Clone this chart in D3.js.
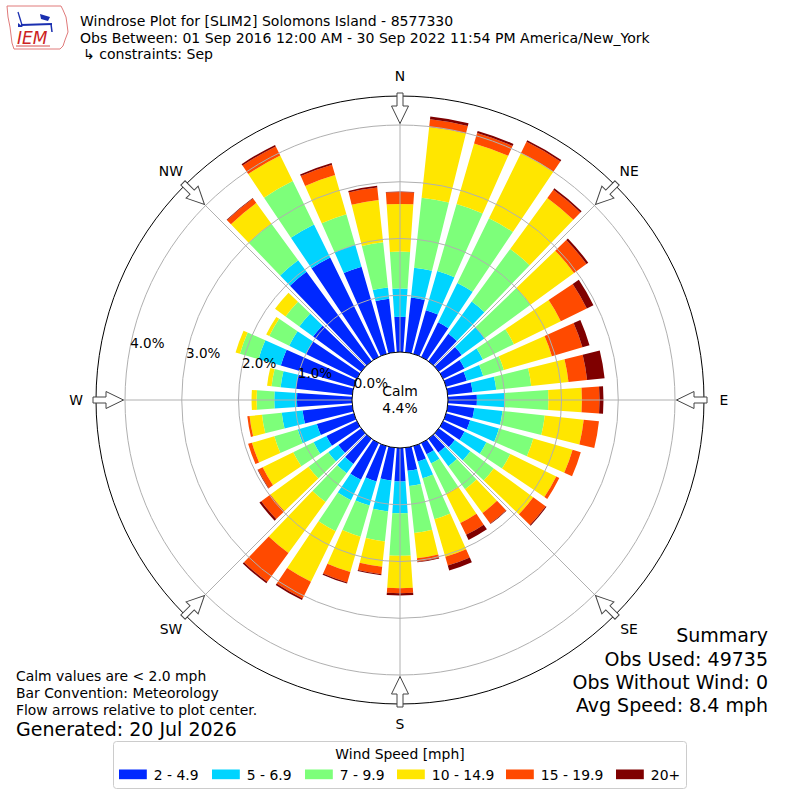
<!DOCTYPE html>
<html><head><meta charset="utf-8">
<script src="https://cdn.jsdelivr.net/npm/d3@7"></script>
<style>
body{margin:0;background:#fff}
svg{display:block}
text{font-family:"DejaVu Sans",sans-serif;fill:#000}
</style>
</head><body>
<svg id="chart" width="800" height="800"></svg>
<script>
// ---------------- data ----------------
const directions = d3.range(0, 360, 10); // degrees, meteorological (from N clockwise)
const speedBins = ["2 - 4.9", "5 - 6.9", "7 - 9.9", "10 - 14.9", "15 - 19.9", "20+"];
const binColors = ["#0028ff", "#00d4ff", "#7dff7a", "#ffe600", "#ff4a00", "#7f0000"];
// percent frequency per direction (0,10,...,350) per speed bin
const bin2to4 = [0.62,0.97,0.80,0.68,0.60,0.50,0.42,0.38,0.44,0.51,0.47,0.44,0.42,0.35,0.30,0.22,0.28,0.41,
                 0.59,0.58,0.65,0.72,0.55,0.50,0.60,0.68,0.88,0.97,1.00,1.34,1.00,1.05,1.95,1.95,1.60,0.95];
const bin5to6 = [0.50,0.53,0.72,0.77,0.70,0.50,0.36,0.30,0.42,0.49,0.50,0.53,0.43,0.34,0.30,0.18,0.31,0.27,
                 0.56,0.55,0.44,0.40,0.20,0.22,0.25,0.35,0.37,0.40,0.27,0.41,0.33,0.30,0.25,0.65,0.40,0.20];
const bin7to9 = [0.65,1.24,1.23,1.27,1.15,1.00,0.61,0.38,0.62,0.77,0.75,0.63,0.47,0.51,0.50,0.59,0.75,0.83,
                 0.75,0.53,0.57,0.61,0.63,0.43,0.40,0.43,0.35,0.31,0.16,0.34,0.39,0.30,0.80,0.85,0.56,0.80];
const bin10to14 = [0.84,1.25,1.11,1.28,1.11,0.95,0.92,0.88,0.66,0.59,0.69,0.72,0.90,0.86,0.52,0.58,0.69,0.45,
                   0.57,0.45,0.65,0.99,1.11,0.83,0.60,0.41,0.22,0.09,0.08,0.08,0.06,0.23,0.45,0.50,0.72,0.75];
const bin15to19 = [0.21,0.14,0.19,0.22,0.18,0.27,0.51,0.56,0.33,0.31,0.27,0.15,0.06,0.27,0.23,0.23,0.16,0.06,
                   0.09,0.13,0.19,0.33,0.63,0.20,0.09,0.07,0.04,0.00,0.00,0.00,0.00,0.00,0.10,0.18,0.19,0.22];
const bin20plus = [0.01,0.05,0.04,0.03,0.03,0.04,0.13,0.13,0.31,0.07,0.00,0.00,0.00,0.02,0.01,0.10,0.09,0.01,
                   0.04,0.02,0.02,0.03,0.03,0.04,0.01,0.00,0.00,0.00,0.00,0.00,0.00,0.00,0.01,0.03,0.03,0.03];
const calmPct = "4.4%";
const compass = ["N", "NE", "E", "SE", "S", "SW", "W", "NW"];
const pctTicks = [0, 1, 2, 3, 4];
const titleLines = ["Windrose Plot for [SLIM2] Solomons Island - 8577330",
  "Obs Between: 01 Sep 2016 12:00 AM - 30 Sep 2022 11:54 PM America/New_York",
  "\u21b3 constraints: Sep"];
const noteLines = ["Calm values are < 2.0 mph", "Bar Convention: Meteorology", "Flow arrows relative to plot center."];
const generated = "Generated: 20 Jul 2026";
const summaryLines = ["Summary", "Obs Used: 49735", "Obs Without Wind: 0", "Avg Speed: 8.4 mph"];
const legendTitle = "Wind Speed [mph]";

// ---------------- chart ----------------
const svg = d3.select("#chart");
svg.append("rect").attr("width", 800).attr("height", 800).attr("fill", "#fff");
const cx = 400, cy = 400;
const r = d3.scaleLinear().domain([0, 4]).range([48, 275]);
const outerR = 304;
const rad = d => d * Math.PI / 180;

const series = [bin2to4, bin5to6, bin7to9, bin10to14, bin15to19, bin20plus];
const keys = speedBins;
const table = directions.map((dir, i) => {
  const o = {dir};
  keys.forEach((k, j) => o[k] = series[j][i]);
  return o;
});
const stacked = d3.stack().keys(keys)(table);

const g = svg.append("g").attr("transform", `translate(${cx},${cy})`);
const half = rad(10 * 0.78 / 2);
const arc = d3.arc()
  .innerRadius(d => r(d[0]))
  .outerRadius(d => r(d[1]))
  .startAngle(d => rad(d.data.dir) - half)
  .endAngle(d => rad(d.data.dir) + half);

stacked.forEach((s, j) => {
  g.append("g").selectAll("path").data(s.filter(d => d[1] - d[0] > 0)).join("path")
    .attr("d", arc).attr("fill", binColors[j]);
});

// grid rings
g.append("g").selectAll("circle").data(pctTicks.filter(t => t > 0)).join("circle")
  .attr("r", d => r(d)).attr("fill", "none").attr("stroke", "#b0b0b0").attr("stroke-width", 1);
// radial lines
g.append("g").selectAll("line").data(d3.range(0, 360, 45)).join("line")
  .attr("x1", d => r(0) * Math.sin(rad(d))).attr("y1", d => -r(0) * Math.cos(rad(d)))
  .attr("x2", d => outerR * Math.sin(rad(d))).attr("y2", d => -outerR * Math.cos(rad(d)))
  .attr("stroke", "#b0b0b0").attr("stroke-width", 1);
// outer circle
g.append("circle").attr("r", outerR).attr("fill", "none").attr("stroke", "#000").attr("stroke-width", 1);
// calm circle
g.append("circle").attr("r", r(0)).attr("fill", "#fff").attr("stroke", "#000").attr("stroke-width", 1);

// arrows
const arrowPath = "M-3,-307 L3,-307 L3,-294 L8.5,-294 L0,-276.5 L-8.5,-294 L-3,-294 Z";
g.append("g").selectAll("path").data(d3.range(0, 360, 45)).join("path")
  .attr("d", arrowPath).attr("transform", d => `rotate(${d})`)
  .attr("fill", "#fff").attr("stroke", "#444").attr("stroke-width", 1);

// compass labels
g.append("g").selectAll("text").data(compass).join("text")
  .attr("x", (d, i) => 324 * Math.sin(rad(i * 45)))
  .attr("y", (d, i) => -324 * Math.cos(rad(i * 45)) + 5)
  .attr("text-anchor", "middle").attr("font-size", 13.9).text(d => d);

// percent labels
g.append("g").selectAll("text").data(pctTicks).join("text")
  .attr("x", d => -r(d) * Math.cos(rad(10)) + 1)
  .attr("y", d => -r(d) * Math.sin(rad(10)) - 4)
  .attr("font-size", 13.5).text(d => d.toFixed(1) + "%");

// calm text
g.append("text").attr("x", 0).attr("y", -4.5).attr("text-anchor", "middle").attr("font-size", 13.9).text("Calm");
g.append("text").attr("x", 0).attr("y", 12.5).attr("text-anchor", "middle").attr("font-size", 13.9).text(calmPct);

// title
svg.append("g").selectAll("text").data(titleLines).join("text")
  .attr("x", (d, i) => i === 2 ? 83 : 80).attr("y", (d, i) => [25.5, 42.5, 59][i])
  .attr("font-size", 14.05).text(d => d);

// notes
svg.append("g").selectAll("text").data(noteLines).join("text")
  .attr("x", 16).attr("y", (d, i) => [680.5, 697.5, 714.5][i]).attr("font-size", 13.9).text(d => d);
svg.append("text").attr("x", 16).attr("y", 736).attr("font-size", 19).text(generated);

// summary
svg.append("g").selectAll("text").data(summaryLines).join("text")
  .attr("x", 768).attr("y", (d, i) => [642, 665.5, 689, 712][i]).attr("text-anchor", "end")
  .attr("font-size", 19).text(d => d);

// legend
const lg = svg.append("g");
lg.append("rect").attr("x", 113.5).attr("y", 741.5).attr("width", 573).attr("height", 47)
  .attr("rx", 3).attr("fill", "#fff").attr("stroke", "#cccccc").attr("stroke-width", 1);
lg.append("text").attr("x", 400).attr("y", 759).attr("text-anchor", "middle").attr("font-size", 13.9).text(legendTitle);
const swatchX = [119, 212, 305, 397, 506, 616];
speedBins.forEach((b, j) => {
  lg.append("rect").attr("x", swatchX[j]).attr("y", 769.5).attr("width", 27.8).attr("height", 9.7).attr("fill", binColors[j]);
  lg.append("text").attr("x", swatchX[j] + 34.8).attr("y", 779.5).attr("font-size", 13.9).text(b);
});

// logo
const logo = svg.append("g");
logo.append("path")
  .attr("d", "M7,6 L61,6 L63,10 L66,17 L67,24 L68,32 L65,40 L63,46 L60,49 L14,49 L12,43 L11,35 L10,27 L8,17 Z")
  .attr("fill", "none").attr("stroke", "#e07a7a").attr("stroke-width", 1);
logo.append("line").attr("x1", 21).attr("y1", 25).attr("x2", 52).attr("y2", 24).attr("stroke", "#1a2fb0").attr("stroke-width", 2);
logo.append("line").attr("x1", 18).attr("y1", 12).attr("x2", 22).attr("y2", 25).attr("stroke", "#1a2fb0").attr("stroke-width", 1.3);
logo.append("path").attr("d", "M40,14 L50,17 L48,21 L41,19 Z").attr("fill", "#1a2fb0");
logo.append("line").attr("x1", 51).attr("y1", 24).attr("x2", 52).attr("y2", 32).attr("stroke", "#1a2fb0").attr("stroke-width", 1.5);
logo.append("path").attr("d", "M18,23 L23,27 L18,27 Z").attr("fill", "#1a2fb0");
logo.append("text").attr("x", 17).attr("y", 44).attr("font-family", "Liberation Serif, serif")
  .attr("font-style", "italic").attr("font-size", 17).style("fill", "#cc2222").text("IEM");
logo.append("line").attr("x1", 16).attr("y1", 46).attr("x2", 50).attr("y2", 46).attr("stroke", "#cc2222").attr("stroke-width", 0.8);
</script>
</body></html>
